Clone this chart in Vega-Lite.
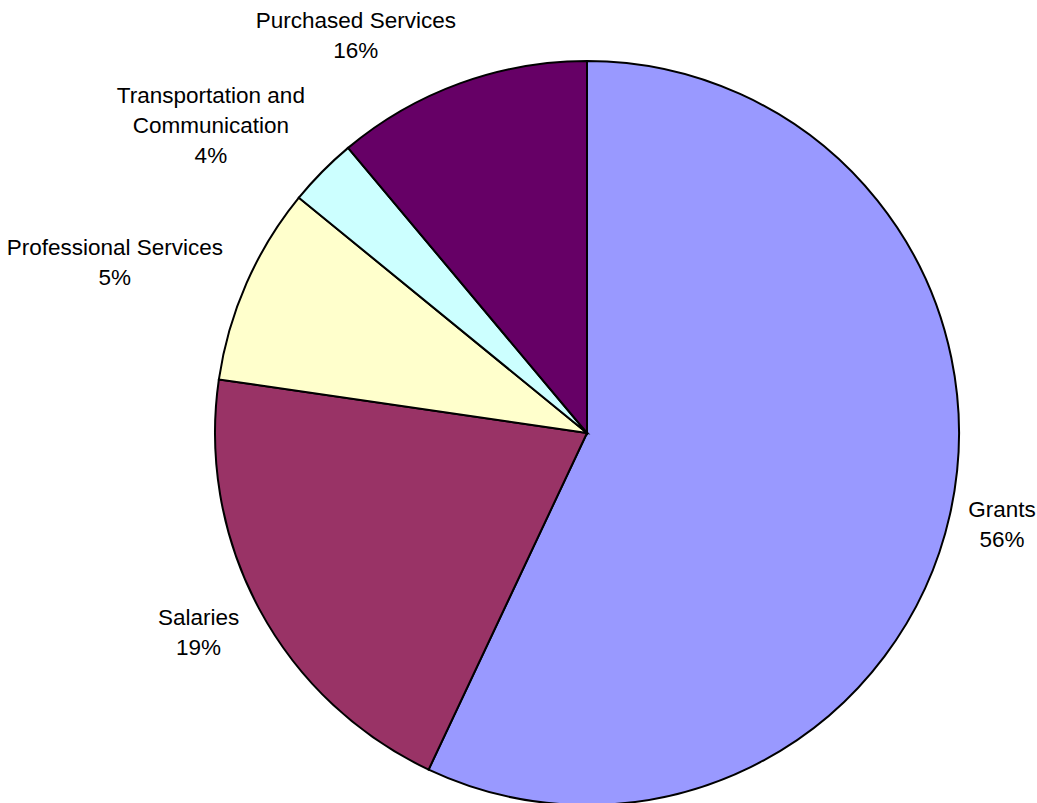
{
  "$schema": "https://vega.github.io/schema/vega-lite/v6.json",
  "autosize": {"type": "none"},
  "padding": {"left": 137, "top": 63, "right": 0, "bottom": 0},
  "width": 900,
  "height": 740,
  "background": "white",
  "config": {"view": {"stroke": null}},
  "data": {
    "values": [
      {"rank": 1, "category": "Grants", "value": 57.0, "label": "Grants\n56%"},
      {"rank": 2, "category": "Salaries", "value": 20.3, "label": "Salaries\n19%"},
      {"rank": 3, "category": "Professional Services", "value": 8.6, "label": "Professional Services\n5%"},
      {"rank": 4, "category": "Transportation and Communication", "value": 3.0, "label": "Transportation and\nCommunication\n4%"},
      {"rank": 5, "category": "Purchased Services", "value": 11.1, "label": "Purchased Services\n16%"}
    ]
  },
  "encoding": {
    "theta": {"field": "value", "type": "quantitative", "stack": true},
    "order": {"field": "rank", "type": "quantitative"}
  },
  "layer": [
    {
      "mark": {"type": "arc", "outerRadius": 372, "stroke": "black", "strokeWidth": 2},
      "encoding": {
        "color": {
          "field": "category",
          "type": "nominal",
          "scale": {
            "domain": ["Grants", "Salaries", "Professional Services", "Transportation and Communication", "Purchased Services"],
            "range": ["#9999FF", "#993366", "#FFFFCC", "#CCFFFF", "#660066"]
          },
          "legend": null
        }
      }
    },
    {
      "mark": {
        "type": "text",
        "radius": 392,
        "align": "center",
        "baseline": "middle",
        "font": "Liberation Sans",
        "fontSize": 22.5,
        "lineBreak": "\n",
        "lineHeight": 30,
        "color": "black",
        "dx": {"expr": "((datum.value_start + datum.value_end) / 200 < 0.5 ? 1 : -1) * 5.4 * length(split(datum.label, '\\n')[0])"},
        "dy": {"expr": "-cos(2 * PI * (datum.value_start + datum.value_end) / 200) * length(split(datum.label, '\\n')) * 15 - (length(split(datum.label, '\\n')) - 1) * 15"}
      },
      "encoding": {
        "text": {"field": "label", "type": "nominal"}
      }
    }
  ]
}
